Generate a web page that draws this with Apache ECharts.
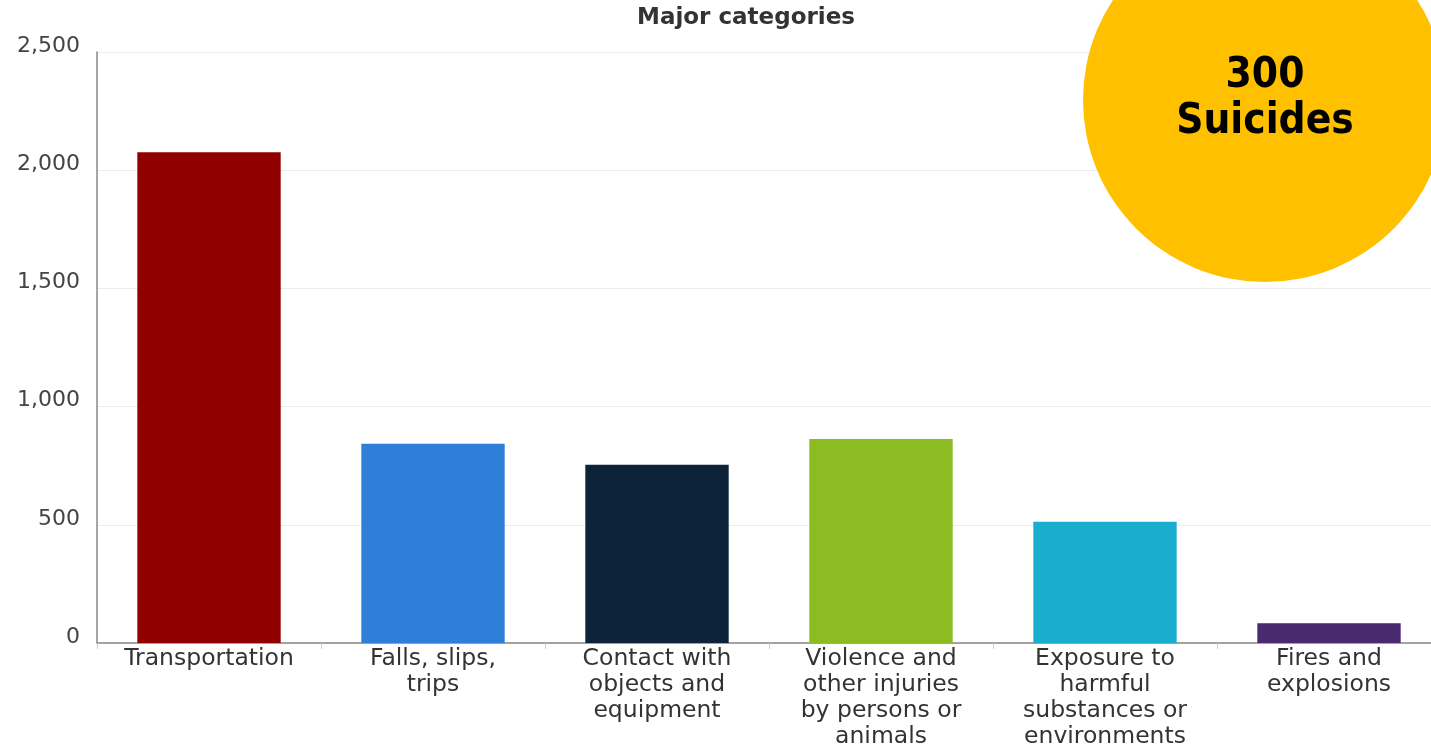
<!DOCTYPE html>
<html>
<head>
<meta charset="utf-8">
<script src="https://cdn.jsdelivr.net/npm/echarts@6/dist/echarts.min.js"></script>
<style>
html,body{margin:0;padding:0;background:#fff;}
#chart{width:1431px;height:746px;}
</style>
</head>
<body>
<div id="chart"></div>
<script>
const categories = [
  "Transportation",
  "Falls, slips,\ntrips",
  "Contact with\nobjects and\nequipment",
  "Violence and\nother injuries\nby persons or\nanimals",
  "Exposure to\nharmful\nsubstances or\nenvironments",
  "Fires and\nexplosions"
];
const fatalities = [2076, 843, 754, 863, 513, 84];
const barColors = ["#910000", "#2f7ed8", "#0d233a", "#8bbc21", "#1aadce", "#492970"];
const yTicks = [0, 500, 1000, 1500, 2000, 2500];
const titleText = "Major categories";
const calloutLines = ["300", "Suicides"];

const chart = echarts.init(document.getElementById('chart'));
chart.setOption({
  animation: false,
  title: {
    text: titleText,
    left: 741,
    textAlign: 'center',
    top: 2,
    textStyle: { fontFamily: 'DejaVu Sans', fontSize: 23, fontWeight: 'bold', color: '#333' }
  },
  grid: { left: 97, top: 52, width: 1344, bottom: 103, containLabel: false, outerBoundsMode: 'none' },
  xAxis: {
    type: 'category',
    data: categories,
    axisLine: { lineStyle: { color: '#888', width: 1.5 } },
    axisTick: { show: true, length: 6, lineStyle: { color: '#c8c8c8' } },
    axisLabel: {
      interval: 0,
      margin: 3,
      fontFamily: 'DejaVu Sans',
      fontSize: 23.5,
      lineHeight: 26,
      color: '#333'
    }
  },
  yAxis: {
    type: 'value',
    min: 0,
    max: yTicks[yTicks.length - 1],
    interval: yTicks[1] - yTicks[0],
    axisLine: { show: true, lineStyle: { color: '#888', width: 1.5 } },
    axisTick: { show: false },
    splitLine: { lineStyle: { color: '#ececec' } },
    axisLabel: {
      margin: 17,
      verticalAlign: 'bottom',
      lineHeight: 12,
      fontFamily: 'DejaVu Sans',
      fontSize: 22,
      color: '#444',
      formatter: v => v.toLocaleString('en-US')
    }
  },
  series: [{
    type: 'bar',
    data: fatalities.map((v, i) => ({ value: v, itemStyle: { color: barColors[i] } })),
    barCategoryGap: '36%'
  }],
  graphic: [
    {
      type: 'circle',
      shape: { cx: 1265, cy: 100, r: 182 },
      style: { fill: '#ffc000' },
      z: 100
    },
    {
      type: 'text',
      x: 1265,
      y: 99,
      z: 101,
      style: {
        text: calloutLines.join('\n'),
        fontFamily: 'DejaVu Sans Condensed, DejaVu Sans',
        fontWeight: 'bold',
        fontSize: 42,
        lineHeight: 46,
        fill: '#000',
        align: 'center',
        verticalAlign: 'middle'
      }
    }
  ]
});
</script>
</body>
</html>
